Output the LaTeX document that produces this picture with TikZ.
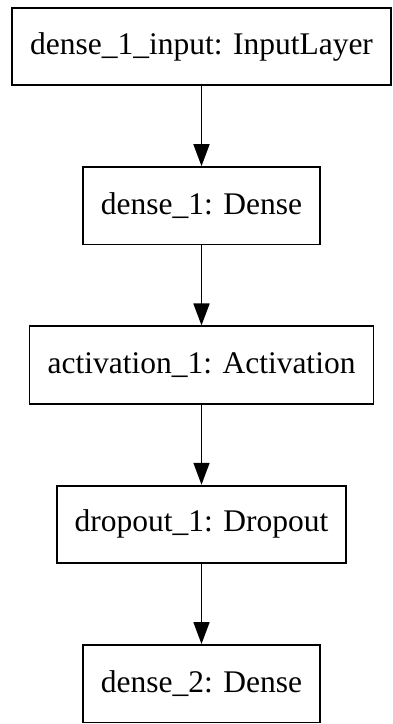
\documentclass[tikz,border=0pt]{standalone}
\usepackage{fontspec}
\newfontfamily\layerfont{Liberation Serif}
\usetikzlibrary{positioning,arrows.meta}
\begin{document}
\begin{tikzpicture}[>={Triangle[length=22pt,width=16pt]}, x=1pt, y=1pt, node distance=80pt,
    layer/.style={draw, line width=1.8pt, minimum height=77.5pt, inner xsep=18pt, font=\layerfont\fontsize{31.5}{36}\selectfont}]
    \useasboundingbox (0,0) rectangle (392,-724);
    \node[layer] (inp) at (201.5,-46.5) {dense\_1\_input: InputLayer};
    \node[layer, below=of inp] (dns1) {dense\_1: Dense};
    \node[layer, below=of dns1] (act1) {activation\_1: Activation};
    \node[layer, below=of act1] (drop1) {dropout\_1: Dropout};
    \node[layer, below=of drop1] (dns2) {dense\_2: Dense};
    \draw[->, line width=1.8pt](inp)--(dns1);
    \draw[->, line width=1.8pt](dns1)--(act1);
    \draw[->, line width=1.8pt](act1)--(drop1);
    \draw[->, line width=1.8pt](drop1)--(dns2);
\end{tikzpicture}
\end{document}
